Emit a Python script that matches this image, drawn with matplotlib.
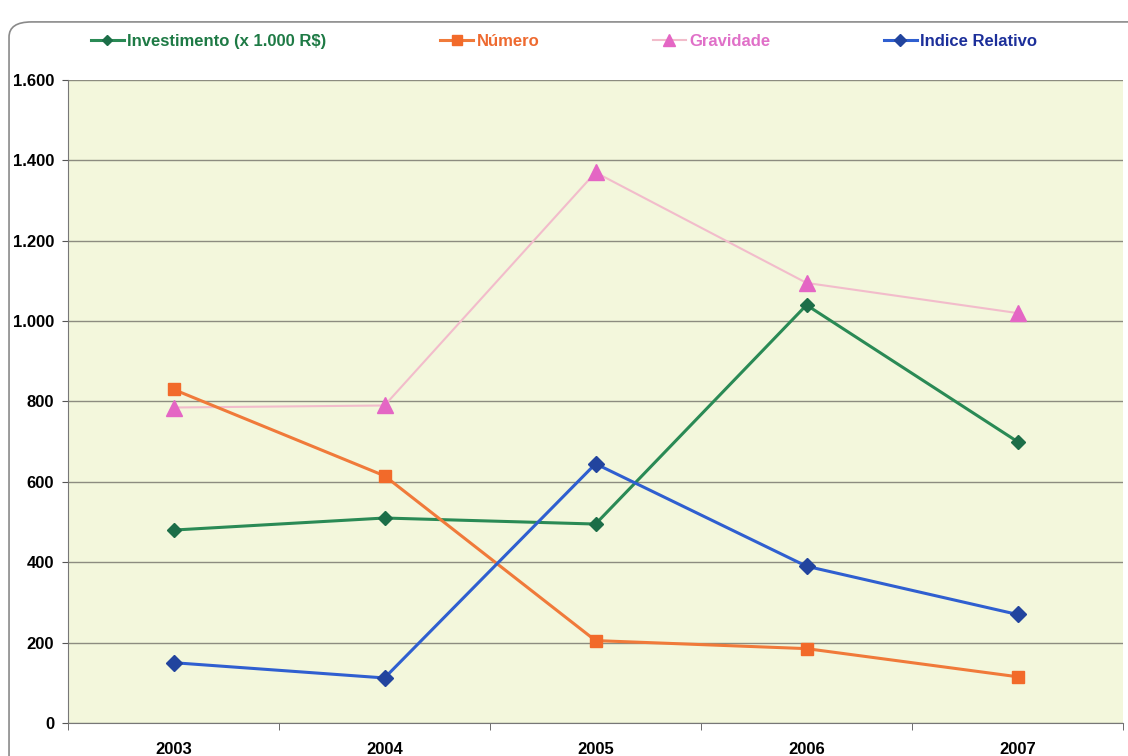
import matplotlib
matplotlib.use("Agg")
import matplotlib.pyplot as plt
from matplotlib.patches import FancyBboxPatch
from matplotlib.ticker import FuncFormatter, MultipleLocator

years = ["2003", "2004", "2005", "2006", "2007"]
investimento = [480, 510, 495, 1040, 700]
numero = [830, 615, 205, 185, 115]
gravidade = [785, 790, 1370, 1095, 1020]
indice = [150, 112, 645, 390, 270]

plt.rcParams['font.family'] = ['Liberation Sans', 'DejaVu Sans']

fig = plt.figure(figsize=(11.28, 7.56), dpi=100)
fig.patch.set_facecolor('white')

# chart frame
frame = FancyBboxPatch((0.008, -0.05), 1.05, 1.021,
                       boxstyle="round,pad=0,rounding_size=0.02",
                       transform=fig.transFigure, facecolor='none',
                       edgecolor='#8a8a8a', linewidth=1.2)
fig.patches.append(frame)

ax = fig.add_axes([0.0603, 0.0437, 0.9353, 0.8505])
ax.set_facecolor('#f3f7dc')

x = list(range(1, len(years) + 1))

ax.plot(x, gravidade, color='#f2bccb', lw=1.5, marker='^', ms=11,
        mfc='#e466c4', mec='#e466c4', zorder=3, label='Gravidade')
ax.plot(x, investimento, color='#2a8a55', lw=2.2, marker='D', ms=7,
        mfc='#1c6e48', mec='#1c6e48', zorder=4, label='Investimento (x 1.000 R$)')
ax.plot(x, numero, color='#f07a3a', lw=2.2, marker='s', ms=9,
        mfc='#f26a2a', mec='#f26a2a', zorder=4, label='Número')
ax.plot(x, indice, color='#2f5fd0', lw=2.2, marker='D', ms=8,
        mfc='#22449e', mec='#22449e', zorder=5, label='Indice Relativo')

ax.set_xlim(0.5, len(years) + 0.5)
ax.set_ylim(0, 1600)
ax.yaxis.set_major_locator(MultipleLocator(200))
ax.yaxis.set_major_formatter(FuncFormatter(lambda v, p: f"{int(v):,}".replace(",", ".")))
ax.grid(axis='y', color='#8c8c80', lw=1.0)
ax.set_axisbelow(True)

ax.set_xticks(x)
ax.set_xticklabels(years)
ax.set_xticks([i + 0.5 for i in range(0, len(years) + 1)], minor=True)
ax.tick_params(axis='x', which='major', length=0, pad=14)
ax.tick_params(axis='x', which='minor', length=5, color='#555555')
ax.tick_params(axis='y', length=4, color='#555555', pad=6)
for lbl in ax.get_xticklabels() + ax.get_yticklabels():
    lbl.set_fontweight('bold')
    lbl.set_fontsize(12)

for side in ('top', 'right'):
    ax.spines[side].set_visible(False)
ax.spines['left'].set_color('#777777')
ax.spines['bottom'].set_color('#777777')

# legend across the top
handles, labels = ax.get_legend_handles_labels()
order = [1, 2, 0, 3]
text_colors = {'Investimento (x 1.000 R$)': '#1e7a45', 'Número': '#ee6a30',
               'Gravidade': '#e070c8', 'Indice Relativo': '#1c2f9a'}
leg = fig.legend([handles[i] for i in order], [labels[i] for i in order],
                 loc='center', bbox_to_anchor=(0.5, 0.945), ncol=4,
                 frameon=False, columnspacing=6.8, handlelength=2.0,
                 handletextpad=0.2, markerscale=0.75,
                 prop={'weight': 'bold', 'size': 12})
for t in leg.get_texts():
    t.set_color(text_colors[t.get_text()])

fig.savefig("out.png", dpi=100)
